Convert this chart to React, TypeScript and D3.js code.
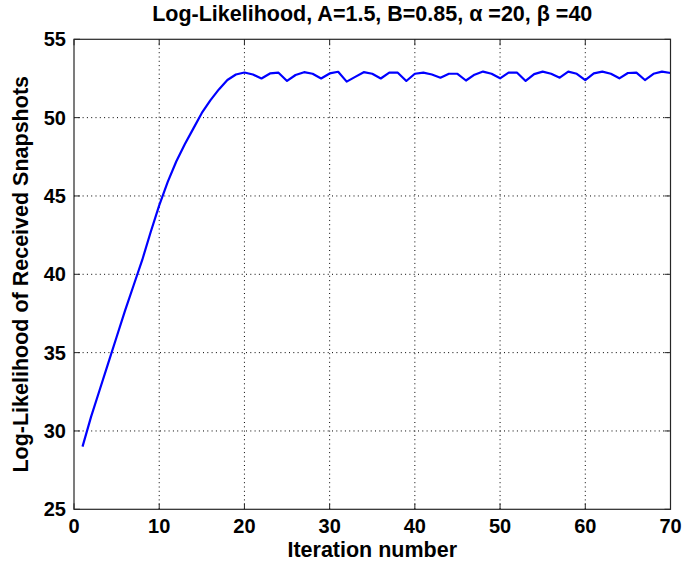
import React from "react";
import * as d3 from "d3";

const iterations: number[] = d3.range(1, 71);
const logLikelihood: number[] = [
  29.0, 30.9, 32.6, 34.3, 36.0, 37.7, 39.3, 40.9, 42.7, 44.4,
  45.9, 47.2, 48.3, 49.3, 50.3, 51.1, 51.8, 52.4, 52.75, 52.88,
  52.75, 52.5, 52.82, 52.87, 52.34, 52.72, 52.9, 52.8, 52.5, 52.82,
  52.93, 52.3, 52.6, 52.9, 52.8, 52.5, 52.87, 52.87, 52.34, 52.8,
  52.87, 52.75, 52.55, 52.8, 52.8, 52.37, 52.74, 52.94, 52.8, 52.51,
  52.87, 52.87, 52.34, 52.78, 52.94, 52.8, 52.55, 52.94, 52.8, 52.4,
  52.83, 52.94, 52.8, 52.51, 52.85, 52.87, 52.4, 52.8, 52.94, 52.85,
];
const xTicks: number[] = [0, 10, 20, 30, 40, 50, 60, 70];
const yTicks: number[] = [25, 30, 35, 40, 45, 50, 55];
const titleText = "Log-Likelihood, A=1.5, B=0.85, \u03B1 =20, \u03B2 =40";
const xLabel = "Iteration number";
const yLabel = "Log-Likelihood of Received Snapshots";

const W = 683;
const H = 567;
const M = { left: 74, right: 670.5, top: 39.3, bottom: 509.3 };
const FONT = "'Liberation Sans', Arial, Helvetica, sans-serif";

export default function App() {
  const x = d3.scaleLinear().domain([0, 70]).range([M.left, M.right]);
  const y = d3.scaleLinear().domain([25, 55]).range([M.bottom, M.top]);
  const line = d3
    .line<number>()
    .x((_, i) => x(iterations[i]))
    .y((d) => y(d));
  const axisColor = "#262626";
  const tickLen = 6;
  return (
    <svg
      width={W}
      height={H}
      style={{ position: "absolute", left: 0, top: 0, background: "#fff" }}
      fontFamily={FONT}
    >
      <rect x={0} y={0} width={W} height={H} fill="#fff" />
      {/* grid */}
      {xTicks.slice(1, -1).map((t) => (
        <line
          key={"gx" + t}
          x1={x(t)}
          x2={x(t)}
          y1={M.top}
          y2={M.bottom}
          stroke="#000"
          strokeWidth={1}
          strokeDasharray="1,3.3"
        />
      ))}
      {yTicks.slice(1, -1).map((t) => (
        <line
          key={"gy" + t}
          x1={M.left}
          x2={M.right}
          y1={y(t)}
          y2={y(t)}
          stroke="#000"
          strokeWidth={1}
          strokeDasharray="1,3.3"
        />
      ))}
      {/* ticks */}
      {xTicks.map((t) => (
        <g key={"tx" + t}>
          <line x1={x(t)} x2={x(t)} y1={M.bottom} y2={M.bottom - tickLen} stroke={axisColor} />
          <line x1={x(t)} x2={x(t)} y1={M.top} y2={M.top + tickLen} stroke={axisColor} />
          <text
            x={x(t)}
            y={M.bottom + 24}
            textAnchor="middle"
            fontSize={20}
            fontWeight="bold"
            fill="#000"
          >
            {t}
          </text>
        </g>
      ))}
      {yTicks.map((t) => (
        <g key={"ty" + t}>
          <line x1={M.left} x2={M.left + tickLen} y1={y(t)} y2={y(t)} stroke={axisColor} />
          <line x1={M.right} x2={M.right - tickLen} y1={y(t)} y2={y(t)} stroke={axisColor} />
          <text
            x={M.left - 8}
            y={y(t) + 7}
            textAnchor="end"
            fontSize={20}
            fontWeight="bold"
            fill="#000"
          >
            {t}
          </text>
        </g>
      ))}
      {/* data */}
      <path
        d={line(logLikelihood) || ""}
        fill="none"
        stroke="#0000ff"
        strokeWidth={2.2}
        strokeLinejoin="round"
      />
      {/* box */}
      <rect
        x={M.left}
        y={M.top}
        width={M.right - M.left}
        height={M.bottom - M.top}
        fill="none"
        stroke={axisColor}
        strokeWidth={1.2}
      />
      {/* labels */}
      <text
        x={(M.left + M.right) / 2}
        y={21}
        textAnchor="middle"
        fontSize={21.5}
        fontWeight="bold"
        fill="#000"
      >
        {titleText}
      </text>
      <text
        x={(M.left + M.right) / 2}
        y={557}
        textAnchor="middle"
        fontSize={21.5}
        fontWeight="bold"
        fill="#000"
      >
        {xLabel}
      </text>
      <text
        transform={`translate(28,${(M.top + M.bottom) / 2}) rotate(-90)`}
        textAnchor="middle"
        fontSize={21.5}
        fontWeight="bold"
        fill="#000"
      >
        {yLabel}
      </text>
    </svg>
  );
}
